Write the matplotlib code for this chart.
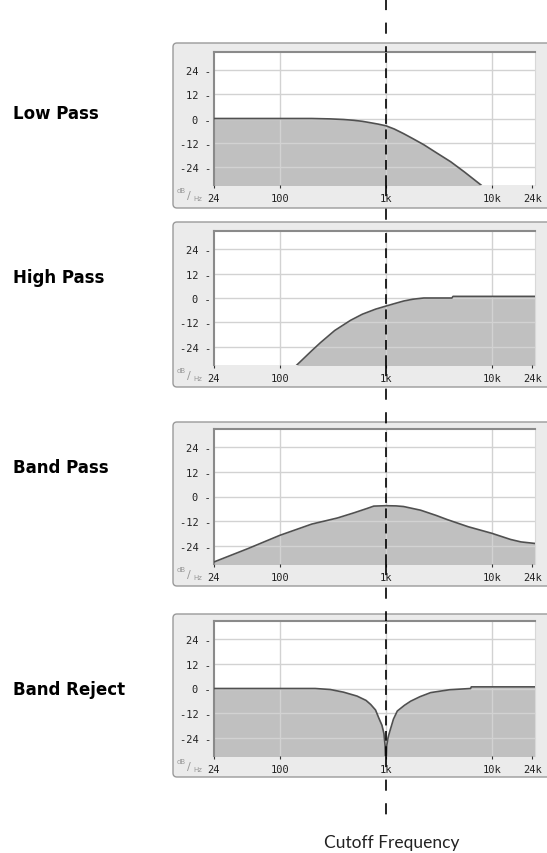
import matplotlib
matplotlib.use("Agg")
import matplotlib.pyplot as plt
from matplotlib.patches import FancyBboxPatch
from matplotlib.lines import Line2D

plt.rcParams['lines.scale_dashes'] = False

# filter responses (Hz, dB)
filter_names = ['Low Pass', 'High Pass', 'Band Pass', 'Band Reject']

lp_freq = [24, 100, 200, 300, 400, 500, 600, 700, 850, 1000, 1200, 1470, 1800, 2280,
           3000, 4100, 5500, 7900]
lp_db = [0, 0, 0, -0.2, -0.5, -0.9, -1.4, -2, -2.8, -3.6, -5.2, -7.5, -10, -13,
         -17, -21.5, -26.5, -33]

hp_freq = [145, 200, 242, 330, 465, 600, 800, 1000, 1200, 1470, 1800, 2280, 3000,
           4200, 4300, 26000]
hp_db = [-33, -26, -22, -16, -11, -8, -5.5, -4, -2.8, -1.5, -0.6, 0, 0,
         0, 0.8, 0.8]

bp_freq = [24, 50, 100, 200, 350, 500, 670, 770, 1000, 1250, 1470, 2130, 3000, 3800,
           6000, 10000, 15000, 18800, 26000]
bp_db = [-32, -25.5, -19, -13.5, -10.5, -8, -5.8, -4.7, -4.5, -4.6, -4.9, -6.7, -9.3, -11.3,
         -14.8, -18, -21, -22.2, -23]

br_freq = [24, 216, 300, 400, 535, 650, 720, 800, 860, 920, 960, 985, 1000, 1020, 1050,
           1090, 1180, 1284, 1500, 1716, 2100, 2650, 4000, 6300, 6400, 26000]
br_db = [0, 0, -0.5, -1.8, -3.7, -5.8, -7.8, -10.5, -14.5, -18, -22, -28, -40, -28, -24,
         -21, -15, -11, -8.2, -6.2, -4, -2, -0.6, 0, 0.8, 0.8]

responses = [(lp_freq, lp_db), (hp_freq, hp_db), (bp_freq, bp_db), (br_freq, br_db)]

x_ticks = [24, 100, 1000, 10000, 24000]
x_labels = ['24', '100', '1k', '10k', '24k']
y_ticks = [-24, -12, 0, 12, 24]
cutoff = 1000

W, H = 547, 854
fig = plt.figure(figsize=(W / 100, H / 100), dpi=100)


def fx(px):
    return px / W


def fy(py):
    return 1 - py / H


# panel geometry in pixels: (frame top, frame bottom, plot top, plot bottom, label y)
panels = [(44, 209, 53, 186, 114),
          (223, 388, 232, 366, 278),
          (423, 587, 430, 565, 468),
          (615, 778, 622, 757, 690)]
plot_l, plot_r = 214, 535

axes = []
for (ft, fb, pt, pb, ly), name, (freq, db) in zip(panels, filter_names, responses):
    # grey rounded frame behind each plot
    frame = FancyBboxPatch((173 / 100, (H - fb) / 100), 400 / 100, (fb - ft) / 100,
                           boxstyle="round,pad=0,rounding_size=0.04",
                           transform=fig.dpi_scale_trans,
                           facecolor='#ebebeb', edgecolor='#9a9a9a', lw=1.0, zorder=-5)
    fig.patches.append(frame)

    ax = fig.add_axes([fx(plot_l), fy(pb), fx(plot_r - plot_l), (pb - pt) / H])
    ax.set_xscale('log')
    ax.set_xlim(24, 25500)
    ax.set_ylim(-33, 33)

    for v in [100, 1000, 10000]:
        ax.axvline(v, color='#d2d2d2', lw=1.0, zorder=2)
    for v in y_ticks:
        ax.axhline(v, color='#d2d2d2', lw=1.0, zorder=2)

    ax.fill_between(freq, db, -40, color='#c0c0c0', lw=0, zorder=1)
    ax.plot(freq, db, color='#505050', lw=1.2, zorder=3)

    ax.axvline(cutoff, color='black', lw=1.2, dashes=(7, 4), zorder=5)

    ax.minorticks_off()
    ax.set_xticks(x_ticks)
    ax.set_xticklabels(x_labels)
    ax.set_yticks(y_ticks)
    ax.set_yticklabels([f'{v} -' for v in y_ticks])
    ax.tick_params(axis='y', length=0, pad=2, labelsize=7.5, labelcolor='#222222')
    ax.tick_params(axis='x', direction='out', length=2.5, width=0.8, pad=3,
                   labelsize=7.5, labelcolor='#222222', color='#333333')
    for lab in ax.get_xticklabels() + ax.get_yticklabels():
        lab.set_family('DejaVu Sans Mono')

    for s in ['top', 'left']:
        ax.spines[s].set_color('#8a8a8a')
        ax.spines[s].set_linewidth(1.5)
    ax.spines['right'].set_color('#d8d8d8')
    ax.spines['bottom'].set_visible(False)

    # dB/Hz marker in the corner
    fig.text(fx(177), fy(pb + 5), 'dB', fontsize=5, color='#999999', ha='left', va='center')
    fig.text(fx(187), fy(pb + 10), '/', fontsize=8, color='#999999', ha='left', va='center')
    fig.text(fx(193), fy(pb + 13), 'Hz', fontsize=5, color='#999999', ha='left', va='center')

    fig.text(fx(13), fy(ly), name, fontsize=12, fontweight='bold', family='DejaVu Sans',
             ha='left', va='center', color='black')
    axes.append(ax)

# cutoff marker between the panels
cx = fx(386)
gaps = [(0, 53), (186, 232), (366, 430), (565, 622), (757, 826)]
for y0, y1 in gaps:
    fig.lines.append(Line2D([cx, cx], [fy(y0), fy(y1)], transform=fig.transFigure,
                            color='black', lw=1.2, dashes=(8, 9), zorder=10))

fig.text(fx(392), fy(843), 'Cutoff Frequency', fontsize=12.5, family='Lato',
         ha='center', va='center', color='#222222')

fig.savefig('out.png', dpi=100)
